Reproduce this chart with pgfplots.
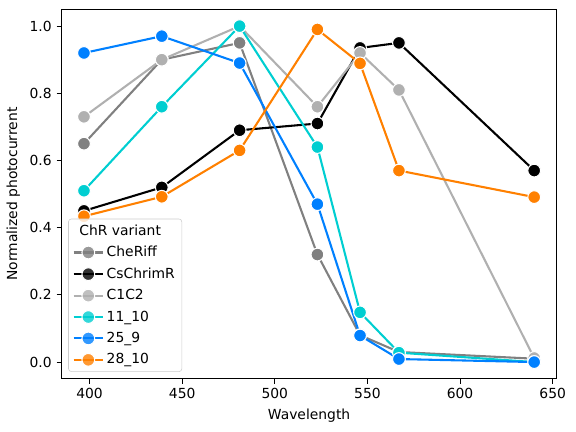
\documentclass[border=0pt]{standalone}
\usepackage{fontspec}
\setmainfont{DejaVu Sans}
\usepackage{pgfplots}
\pgfplotsset{compat=1.18}
\definecolor{cgray}{HTML}{808080}
\definecolor{csilver}{HTML}{B0B0B0}
\definecolor{cturq}{HTML}{00CED1}
\definecolor{cblue}{HTML}{0080FF}
\definecolor{corange}{HTML}{FF8000}
\pgfplotsset{
  ser/.style={#1, line width=1.5pt, mark=*, mark size=4.6pt,
    mark options={draw=white, line width=0.75pt, fill=#1, solid}},
}
\begin{document}
\begin{tikzpicture}
\useasboundingbox (-44.3pt,-37.9pt) rectangle (370.9pt,273.1pt);
\begin{axis}[
  scale only axis, width=357pt, height=266.4pt,
  xmin=384.85, xmax=652.15, ymin=-0.05, ymax=1.05,
  xtick={400,450,500,550,600,650},
  ytick={0,0.2,0.4,0.6,0.8,1.0},
  yticklabel style={/pgf/number format/.cd, fixed, fixed zerofill, precision=1},
  /pgf/number format/assume math mode=true,
  tick align=outside, xtick pos=bottom, ytick pos=left, major tick length=3.5pt,
  tick style={black, line width=0.8pt},
  axis line style={line width=0.8pt},
  ticklabel style={font=\fontsize{10}{12}\selectfont},
  xlabel={Wavelength}, ylabel={Normalized photocurrent},
  label style={font=\fontsize{10}{12}\selectfont},
  legend style={at={(0.0137,0.019)}, anchor=south west, draw=black!20,
    rounded corners=2pt, fill=white, fill opacity=0.8, text opacity=1,
    font=\fontsize{10}{12}\selectfont, row sep=2.5pt},
  legend cell align=left,
  legend image code/.code={\draw[mark repeat=2,mark phase=2] plot coordinates {(0cm,0cm)(0.37cm,0cm)(0.74cm,0cm)};},
]
\addlegendimage{empty legend}
\addlegendentry{\hspace*{-19.7pt}ChR variant}
\addplot[ser=cgray] coordinates {(397,0.65)(439,0.90)(481,0.95)(523,0.32)(546,0.08)(567,0.03)(640,0.01)};
\addlegendentry{CheRiff}
\addplot[ser=black] coordinates {(397,0.45)(439,0.52)(481,0.69)(523,0.71)(546,0.935)(567,0.95)(640,0.57)};
\addlegendentry{CsChrimR}
\addplot[ser=csilver] coordinates {(397,0.73)(439,0.90)(481,1.00)(523,0.76)(546,0.92)(567,0.81)(640,0.012)};
\addlegendentry{C1C2}
\addplot[ser=cturq] coordinates {(397,0.51)(439,0.76)(481,1.00)(523,0.64)(546,0.148)(567,0.028)(640,0.0)};
\addlegendentry{11\_10}
\addplot[ser=cblue] coordinates {(397,0.92)(439,0.97)(481,0.89)(523,0.47)(546,0.079)(567,0.009)(640,0.0)};
\addlegendentry{25\_9}
\addplot[ser=corange] coordinates {(397,0.434)(439,0.492)(481,0.63)(523,0.99)(546,0.889)(567,0.57)(640,0.491)};
\addlegendentry{28\_10}
\end{axis}
\end{tikzpicture}
\end{document}
